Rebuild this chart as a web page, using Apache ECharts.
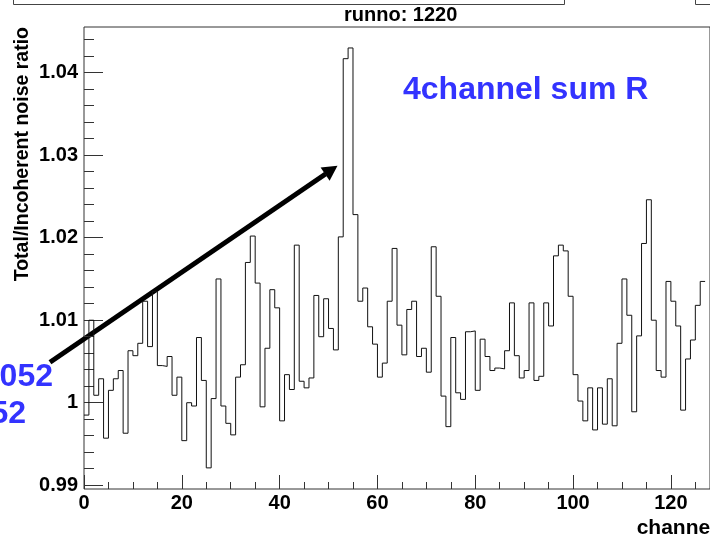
<!DOCTYPE html>
<html>
<head>
<meta charset="utf-8">
<script src="https://cdn.jsdelivr.net/npm/echarts@6/dist/echarts.min.js"></script>
<style>
  html, body { margin: 0; padding: 0; background: #fff; }
  #chart { width: 710px; height: 537px; }
</style>
</head>
<body>
<div id="chart"></div>
<script>
// Total/incoherent noise ratio per channel (one value per channel bin, channels 0..126)
const binValues = [
  0.9985, 1.0100, 1.0009, 1.0029, 0.9957, 1.0015, 1.0029, 1.0039, 0.9963, 1.0063,
  1.0057, 1.0072, 1.0123, 1.0068, 1.0135, 1.0045, 1.0044, 1.0056, 1.0009, 1.0031,
  0.9954, 1.0000, 0.9996, 1.0079, 1.0027, 0.9921, 1.0005, 1.0150, 0.9996, 0.9975,
  0.9961, 1.0031, 1.0046, 1.0170, 1.0202, 1.0145, 0.9995, 1.0066, 1.0137, 1.0115,
  0.9978, 1.0034, 1.0016, 1.0191, 1.0026, 1.0018, 1.0030, 1.0130, 1.0080, 1.0126,
  1.0090, 1.0064, 1.0201, 1.0417, 1.0430, 1.0228, 1.0123, 1.0139, 1.0092, 1.0071,
  1.0031, 1.0048, 1.0123, 1.0187, 1.0094, 1.0058, 1.0113, 1.0123, 1.0056, 1.0066,
  1.0037, 1.0189, 1.0129, 1.0008, 0.9971, 1.0079, 1.0012, 1.0004, 1.0086, 1.0087,
  1.0015, 1.0077, 1.0056, 1.0039, 1.0042, 1.0041, 1.0063, 1.0121, 1.0057, 1.0030,
  1.0039, 1.0121, 1.0027, 1.0032, 1.0121, 1.0093, 1.0178, 1.0191, 1.0184, 1.0129,
  1.0034, 1.0002, 0.9978, 1.0018, 0.9967, 1.0018, 0.9974, 1.0029, 0.9972, 1.0072,
  1.0150, 1.0106, 0.9989, 1.0081, 1.0193, 1.0246, 1.0100, 1.0039, 1.0031, 1.0147,
  1.0123, 1.0093, 0.9991, 1.0053, 1.0076, 1.0118, 1.0147
];

const xMajorTicks = [0, 20, 40, 60, 80, 100, 120];
const xMinorTicks = [5, 10, 15, 25, 30, 35, 45, 50, 55, 65, 70, 75, 85, 90, 95, 105, 110, 115, 125];
const yMajorTicks = [0.99, 1, 1.01, 1.02, 1.03, 1.04];

const runTitle = 'runno: 1220';
const yTitle = 'Total/Incoherent noise ratio';
const xTitle = 'channel';
const panelLabel = '4channel sum R';
const sideLabels = ['052', '52'];

// y minor ticks every 0.002, skipping the labelled ones
const yMinorTicks = [];
for (let m = 495; m <= 522; m++) {
  if (m % 5 !== 0) yMinorTicks.push(+(m * 0.002).toFixed(3));
}

// histogram drawn as a step line through the bin left edges, closed at the last edge
const stepPoints = binValues.map((v, i) => [i, v]);
stepPoints.push([binValues.length, binValues[binValues.length - 1]]);

const FONT = "'Liberation Sans', Arial, Helvetica, sans-serif";
const X_MIN = 0, X_MAX = 128;
const Y_MIN = 0.98954, Y_MAX = 1.04554;
const TICK = '#333';

const chart = echarts.init(document.getElementById('chart'), null, { renderer: 'canvas' });

chart.setOption({
  animation: false,
  backgroundColor: '#fff',
  title: {
    text: runTitle,
    left: 344,
    top: 5,
    padding: 0,
    textStyle: { fontFamily: FONT, fontWeight: 'bold', fontSize: 20, color: '#000' }
  },
  grid: {
    left: 84, top: 27, width: 634, height: 462,
    show: true, borderColor: '#333', borderWidth: 1, backgroundColor: 'transparent'
  },
  xAxis: [
    {
      type: 'value', min: X_MIN, max: X_MAX, position: 'bottom',
      axisLine: { show: false },
      splitLine: { show: false },
      axisTick: { show: true, inside: true, length: 14, customValues: xMajorTicks,
                  lineStyle: { color: TICK, width: 1 } },
      axisLabel: { show: true, customValues: xMajorTicks, margin: 4,
                   fontFamily: FONT, fontWeight: 'bold', fontSize: 20, color: '#000' }
    },
    {
      type: 'value', min: X_MIN, max: X_MAX, position: 'bottom',
      axisLine: { show: false },
      splitLine: { show: false },
      axisTick: { show: true, inside: true, length: 7, customValues: xMinorTicks,
                  lineStyle: { color: TICK, width: 1 } },
      axisLabel: { show: false }
    }
  ],
  yAxis: [
    {
      type: 'value', min: Y_MIN, max: Y_MAX, position: 'left',
      axisLine: { show: false },
      splitLine: { show: false },
      axisTick: { show: true, inside: true, length: 19, customValues: yMajorTicks,
                  lineStyle: { color: TICK, width: 1 } },
      axisLabel: { show: true, customValues: yMajorTicks, margin: 6,
                   fontFamily: FONT, fontWeight: 'bold', fontSize: 20, color: '#000' }
    },
    {
      type: 'value', min: Y_MIN, max: Y_MAX, position: 'left',
      axisLine: { show: false },
      splitLine: { show: false },
      axisTick: { show: true, inside: true, length: 10, customValues: yMinorTicks,
                  lineStyle: { color: TICK, width: 1 } },
      axisLabel: { show: false }
    }
  ],
  series: [
    {
      type: 'line',
      xAxisIndex: 0,
      yAxisIndex: 0,
      data: stepPoints,
      step: 'end',
      showSymbol: false,
      symbol: 'none',
      clip: true,
      lineStyle: { color: '#111', width: 1 }
    }
  ],
  graphic: [
    // edges of the neighbouring panels above
    { type: 'rect', shape: { x: 13.5, y: -10, width: 551, height: 14.5 },
      style: { fill: 'none', stroke: '#444', lineWidth: 1 } },
    { type: 'rect', shape: { x: 695.5, y: -10, width: 40, height: 14.5 },
      style: { fill: 'none', stroke: '#444', lineWidth: 1 } },
    // axis titles
    { type: 'text', x: 23, y: 27, rotation: Math.PI / 2,
      style: { text: yTitle, font: 'bold 19.5px ' + FONT, fill: '#000',
               textAlign: 'right', textVerticalAlign: 'middle' } },
    { type: 'text', x: 716, y: 528,
      style: { text: xTitle, font: 'bold 21px ' + FONT, fill: '#000',
               textAlign: 'right', textVerticalAlign: 'middle' } },
    // blue annotations
    { type: 'text', x: 403, y: 90,
      style: { text: panelLabel, font: 'bold 32px ' + FONT, fill: '#3333ff',
               textAlign: 'left', textVerticalAlign: 'middle' } },
    { type: 'text', x: 53, y: 377,
      style: { text: sideLabels[0], font: 'bold 32px ' + FONT, fill: '#3333ff',
               textAlign: 'right', textVerticalAlign: 'middle' } },
    { type: 'text', x: 26, y: 414,
      style: { text: sideLabels[1], font: 'bold 32px ' + FONT, fill: '#3333ff',
               textAlign: 'right', textVerticalAlign: 'middle' } },
    // arrow pointing at the peak
    { type: 'line', shape: { x1: 50, y1: 362.3, x2: 325.5, y2: 174 },
      style: { stroke: '#000', lineWidth: 5 } },
    { type: 'polygon', shape: { points: [[337.5, 165.7], [320.6, 167.6], [329.6, 180.8]] },
      style: { fill: '#000' } }
  ]
});
</script>
</body>
</html>
